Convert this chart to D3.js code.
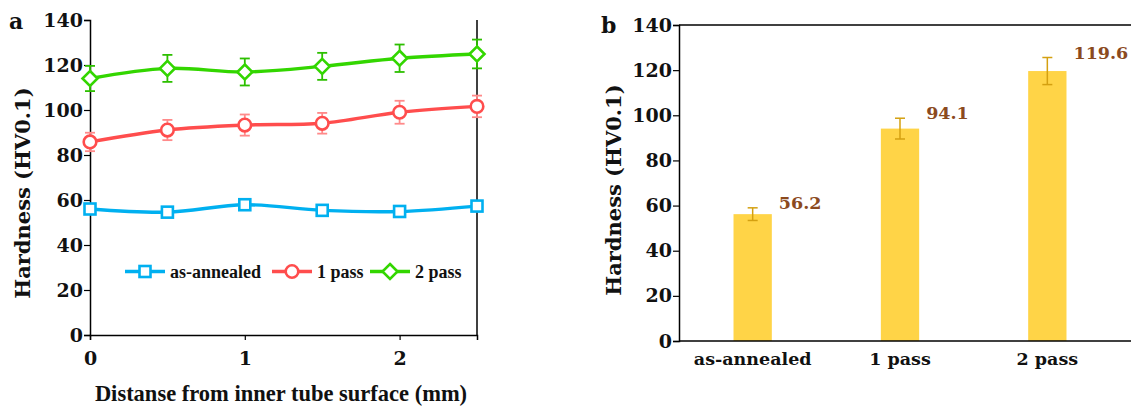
<!DOCTYPE html>
<html>
<head>
<meta charset="utf-8">
<script src="https://cdn.jsdelivr.net/npm/d3@7"></script>
<style>
  body { margin: 0; background: #fff; }
  svg { display: block; }
</style>
</head>
<body>
<div id="chart"></div>
<script>
// Hardness profiles (panel a) and average hardness (panel b)
const distances = [0, 0.5, 1, 1.5, 2, 2.5];
const annealed = [56.0, 54.6, 57.9, 55.4, 54.9, 57.3];
const annealedErr = [1.5, 1.5, 1.5, 1.5, 1.5, 1.5];
const pass1 = [85.8, 91.1, 93.3, 94.1, 99.0, 101.6];
const pass1Err = [4.1, 4.5, 4.7, 4.6, 5.1, 4.8];
const pass2 = [114.0, 118.5, 116.9, 119.4, 123.0, 124.9];
const pass2Err = [5.6, 6.0, 6.0, 6.0, 6.1, 6.4];
const seriesNames = ["as-annealed", "1 pass", "2 pass"];
const xTicks = [0, 1, 2];
const yTicks = [0, 20, 40, 60, 80, 100, 120, 140];

const barCats = ["as-annealed", "1 pass", "2 pass"];
const barValues = [56.2, 94.1, 119.6];
const barErr = [2.8, 4.6, 6.0];

const width = 1131, height = 406;
const tickFont = "'DejaVu Serif', serif";
const timesFont = "'Liberation Serif', 'Times New Roman', serif";

const svg = d3.select("#chart").append("svg")
  .attr("width", width)
  .attr("height", height);

// ---------- Panel a ----------
const xA = d3.scaleLinear().domain([0, 2.5]).range([90, 477]);
const yA = d3.scaleLinear().domain([0, 140]).range([335, 20]);

const series = [
  { name: seriesNames[0], values: annealed, err: annealedErr, color: "#00B0F0", errColor: "#00B0F0", marker: "square" },
  { name: seriesNames[1], values: pass1, err: pass1Err, color: "#FF4D4D", errColor: "#FF8A8A", marker: "circle" },
  { name: seriesNames[2], values: pass2, err: pass2Err, color: "#33D600", errColor: "#2DBF00", marker: "diamond" }
];

const gA = svg.append("g");

// right border line
gA.append("line")
  .attr("x1", xA(2.5)).attr("x2", xA(2.5))
  .attr("y1", yA(140)).attr("y2", yA(0))
  .attr("stroke", "#000").attr("stroke-width", 1.5);

const yAxisA = gA.append("g")
  .attr("transform", `translate(${xA(0)},0)`)
  .call(d3.axisLeft(yA).tickValues(yTicks).tickSize(6).tickPadding(1).tickFormat(d3.format("d")));
const xAxisA = gA.append("g")
  .attr("transform", `translate(0,${yA(0)})`)
  .call(d3.axisBottom(xA).tickValues(xTicks).tickSize(5).tickPadding(12).tickFormat(d3.format("d")));

[yAxisA, xAxisA].forEach(ax => {
  ax.select(".domain").attr("stroke", "#000").attr("stroke-width", 1.5);
  ax.selectAll(".tick line").attr("stroke", "#000").attr("stroke-width", 1.2);
  ax.selectAll("text")
    .attr("fill", "#111")
    .style("font-family", tickFont)
    .style("font-weight", "bold")
    .style("font-size", "19px");
});

function drawMarker(g, type, x, y, color) {
  if (type === "square") {
    g.append("rect")
      .attr("x", x - 5.5).attr("y", y - 5.5)
      .attr("width", 11).attr("height", 11)
      .attr("fill", "#fff").attr("stroke", color).attr("stroke-width", 2.6);
  } else if (type === "circle") {
    g.append("circle")
      .attr("cx", x).attr("cy", y).attr("r", 6.3)
      .attr("fill", "#fff").attr("stroke", color).attr("stroke-width", 2.6);
  } else {
    const s = 7.5;
    g.append("path")
      .attr("d", `M${x},${y - s}L${x + s},${y}L${x},${y + s}L${x - s},${y}Z`)
      .attr("fill", "#fff").attr("stroke", color).attr("stroke-width", 2.6);
  }
}

const line = d3.line()
  .x((d, i) => xA(distances[i]))
  .y(d => yA(d))
  .curve(d3.curveCatmullRom.alpha(0.5));

series.forEach(s => {
  const g = gA.append("g");
  // error bars
  s.values.forEach((v, i) => {
    const x = xA(distances[i]);
    const y1 = yA(v + s.err[i]), y2 = yA(v - s.err[i]);
    g.append("line").attr("x1", x).attr("x2", x).attr("y1", y1).attr("y2", y2)
      .attr("stroke", s.errColor).attr("stroke-width", 1.8);
    [y1, y2].forEach(yy => g.append("line")
      .attr("x1", x - 5).attr("x2", x + 5).attr("y1", yy).attr("y2", yy)
      .attr("stroke", s.errColor).attr("stroke-width", 1.8));
  });
  g.append("path")
    .datum(s.values)
    .attr("d", line)
    .attr("fill", "none")
    .attr("stroke", s.color)
    .attr("stroke-width", 3.4);
  s.values.forEach((v, i) => drawMarker(g, s.marker, xA(distances[i]), yA(v), s.color));
});

// legend
const legendX = [125, 272, 370];
const legendY = 271.5;
series.forEach((s, i) => {
  const lg = gA.append("g");
  lg.append("line")
    .attr("x1", legendX[i]).attr("x2", legendX[i] + 40)
    .attr("y1", legendY).attr("y2", legendY)
    .attr("stroke", s.color).attr("stroke-width", 3.4);
  drawMarker(lg, s.marker, legendX[i] + 20, legendY, s.color);
  lg.append("text")
    .attr("x", legendX[i] + 45)
    .attr("y", legendY)
    .attr("dy", "0.35em")
    .style("font-family", timesFont)
    .style("font-weight", "bold")
    .style("font-size", "18px")
    .attr("fill", "#111")
    .text(s.name);
});

// axis titles panel a
gA.append("text")
  .attr("x", 281).attr("y", 401)
  .attr("text-anchor", "middle")
  .style("font-family", timesFont)
  .style("font-weight", "bold")
  .style("font-size", "22.5px")
  .attr("fill", "#111")
  .text("Distanse from inner tube surface (mm)");

gA.append("text")
  .attr("transform", "translate(30,193) rotate(-90)")
  .attr("text-anchor", "middle")
  .style("font-family", tickFont)
  .style("font-weight", "bold")
  .style("font-size", "21px")
  .attr("fill", "#111")
  .text("Hardness (HV0.1)");

gA.append("text")
  .attr("x", 9).attr("y", 29)
  .style("font-family", tickFont)
  .style("font-weight", "bold")
  .style("font-size", "22px")
  .attr("fill", "#111")
  .text("a");

// ---------- Panel b ----------
const xB = d3.scaleBand().domain(barCats).range([679, 1121]).paddingInner(0.74).paddingOuter(0.37);
const yB = d3.scaleLinear().domain([0, 140]).range([341, 25]);

const gB = svg.append("g");

// top border
gB.append("line")
  .attr("x1", 679).attr("x2", width)
  .attr("y1", yB(140)).attr("y2", yB(140))
  .attr("stroke", "#000").attr("stroke-width", 1.5);

gB.selectAll(".bar")
  .data(barValues)
  .enter().append("rect")
  .attr("class", "bar")
  .attr("x", (d, i) => xB(barCats[i]))
  .attr("y", d => yB(d))
  .attr("width", xB.bandwidth())
  .attr("height", d => yB(0) - yB(d))
  .attr("fill", "#FFD447");

barValues.forEach((v, i) => {
  const cx = xB(barCats[i]) + xB.bandwidth() / 2;
  const y1 = yB(v + barErr[i]), y2 = yB(v - barErr[i]);
  gB.append("line").attr("x1", cx).attr("x2", cx).attr("y1", y1).attr("y2", y2)
    .attr("stroke", "#D4A010").attr("stroke-width", 1.5);
  [y1, y2].forEach(yy => gB.append("line")
    .attr("x1", cx - 5).attr("x2", cx + 5).attr("y1", yy).attr("y2", yy)
    .attr("stroke", "#D4A010").attr("stroke-width", 1.5));
  gB.append("text")
    .attr("x", xB(barCats[i]) + xB.bandwidth() + 7)
    .attr("y", y1 - 5)
    .attr("dy", "0.35em")
    .style("font-family", tickFont)
    .style("font-weight", "bold")
    .style("font-size", "17.5px")
    .attr("fill", "#8B4A1E")
    .text(d3.format(".1f")(v));
});

const yAxisB = gB.append("g")
  .attr("transform", "translate(679,0)")
  .call(d3.axisLeft(yB).tickValues(yTicks).tickSize(6).tickPadding(1).tickFormat(d3.format("d")));
const xAxisB = gB.append("g")
  .attr("transform", `translate(0,${yB(0)})`)
  .call(d3.axisBottom(xB).tickSize(0).tickPadding(12));
xAxisB.select(".domain").attr("d", `M679,0H${width}`);

[yAxisB, xAxisB].forEach(ax => {
  ax.select(".domain").attr("stroke", "#000").attr("stroke-width", 1.5);
  ax.selectAll(".tick line").attr("stroke", "#000").attr("stroke-width", 1.2);
  ax.selectAll("text")
    .attr("fill", "#111")
    .style("font-family", tickFont)
    .style("font-weight", "bold")
    .style("font-size", "19px");
});
xAxisB.selectAll("text").style("font-size", "17.5px");

gB.append("text")
  .attr("transform", "translate(621,190) rotate(-90)")
  .attr("text-anchor", "middle")
  .style("font-family", tickFont)
  .style("font-weight", "bold")
  .style("font-size", "21px")
  .attr("fill", "#111")
  .text("Hardness (HV0.1)");

gB.append("text")
  .attr("x", 601).attr("y", 33)
  .style("font-family", tickFont)
  .style("font-weight", "bold")
  .style("font-size", "22px")
  .attr("fill", "#111")
  .text("b");
</script>
</body>
</html>
